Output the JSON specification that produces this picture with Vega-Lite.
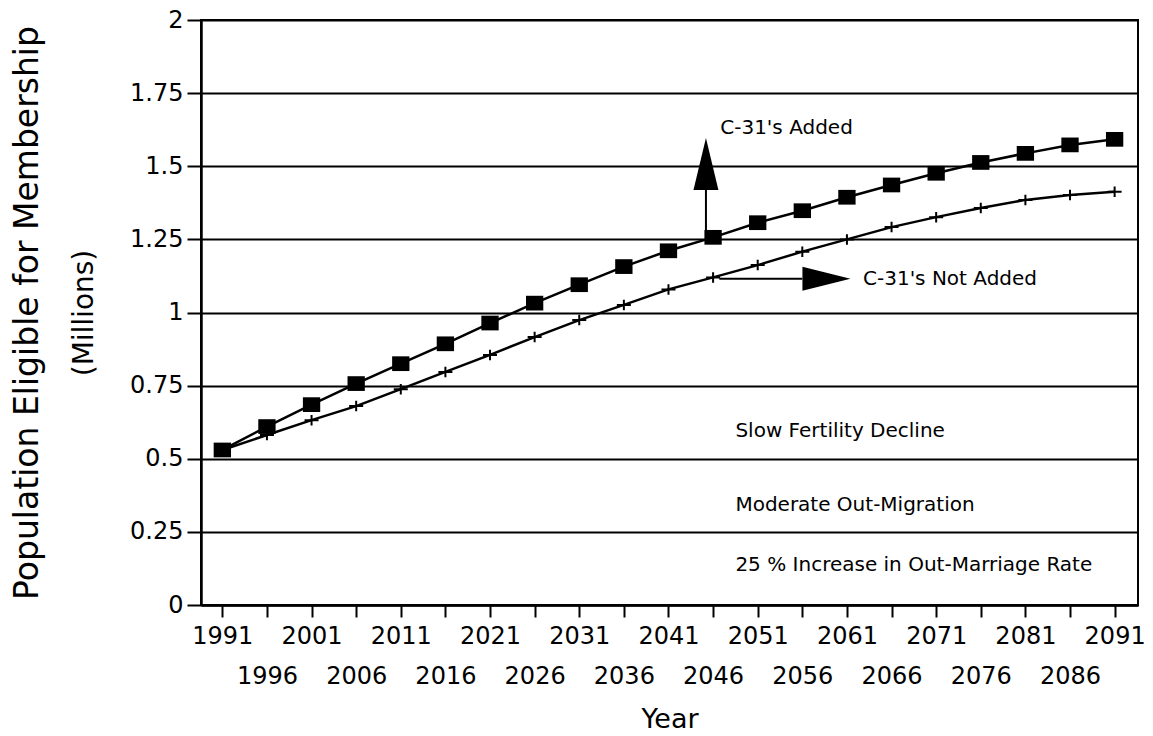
{
  "$schema": "https://vega.github.io/schema/vega-lite/v6.json",
  "width": 937,
  "height": 585,
  "autosize": {"type": "none"},
  "padding": {"left": 201, "top": 20, "right": 15, "bottom": 131},
  "background": "white",
  "config": {
    "view": {"stroke": "black", "strokeWidth": 2},
    "font": "DejaVu Sans",
    "axis": {"labelFont": "DejaVu Sans", "titleFont": "DejaVu Sans", "labelColor": "black", "titleColor": "black", "titleFontWeight": "normal"}
  },
  "datasets": {
    "pop": [
      {"year": 1991, "value": 0.530, "scenario": "C-31's Added"},
      {"year": 1996, "value": 0.610, "scenario": "C-31's Added"},
      {"year": 2001, "value": 0.685, "scenario": "C-31's Added"},
      {"year": 2006, "value": 0.757, "scenario": "C-31's Added"},
      {"year": 2011, "value": 0.825, "scenario": "C-31's Added"},
      {"year": 2016, "value": 0.893, "scenario": "C-31's Added"},
      {"year": 2021, "value": 0.964, "scenario": "C-31's Added"},
      {"year": 2026, "value": 1.032, "scenario": "C-31's Added"},
      {"year": 2031, "value": 1.095, "scenario": "C-31's Added"},
      {"year": 2036, "value": 1.157, "scenario": "C-31's Added"},
      {"year": 2041, "value": 1.211, "scenario": "C-31's Added"},
      {"year": 2046, "value": 1.257, "scenario": "C-31's Added"},
      {"year": 2051, "value": 1.307, "scenario": "C-31's Added"},
      {"year": 2056, "value": 1.348, "scenario": "C-31's Added"},
      {"year": 2061, "value": 1.394, "scenario": "C-31's Added"},
      {"year": 2066, "value": 1.436, "scenario": "C-31's Added"},
      {"year": 2071, "value": 1.476, "scenario": "C-31's Added"},
      {"year": 2076, "value": 1.513, "scenario": "C-31's Added"},
      {"year": 2081, "value": 1.544, "scenario": "C-31's Added"},
      {"year": 2086, "value": 1.573, "scenario": "C-31's Added"},
      {"year": 2091, "value": 1.592, "scenario": "C-31's Added"},
      {"year": 1991, "value": 0.530, "scenario": "C-31's Not Added"},
      {"year": 1996, "value": 0.581, "scenario": "C-31's Not Added"},
      {"year": 2001, "value": 0.632, "scenario": "C-31's Not Added"},
      {"year": 2006, "value": 0.680, "scenario": "C-31's Not Added"},
      {"year": 2011, "value": 0.738, "scenario": "C-31's Not Added"},
      {"year": 2016, "value": 0.797, "scenario": "C-31's Not Added"},
      {"year": 2021, "value": 0.855, "scenario": "C-31's Not Added"},
      {"year": 2026, "value": 0.916, "scenario": "C-31's Not Added"},
      {"year": 2031, "value": 0.974, "scenario": "C-31's Not Added"},
      {"year": 2036, "value": 1.026, "scenario": "C-31's Not Added"},
      {"year": 2041, "value": 1.079, "scenario": "C-31's Not Added"},
      {"year": 2046, "value": 1.120, "scenario": "C-31's Not Added"},
      {"year": 2051, "value": 1.162, "scenario": "C-31's Not Added"},
      {"year": 2056, "value": 1.208, "scenario": "C-31's Not Added"},
      {"year": 2061, "value": 1.250, "scenario": "C-31's Not Added"},
      {"year": 2066, "value": 1.292, "scenario": "C-31's Not Added"},
      {"year": 2071, "value": 1.326, "scenario": "C-31's Not Added"},
      {"year": 2076, "value": 1.357, "scenario": "C-31's Not Added"},
      {"year": 2081, "value": 1.385, "scenario": "C-31's Not Added"},
      {"year": 2086, "value": 1.402, "scenario": "C-31's Not Added"},
      {"year": 2091, "value": 1.413, "scenario": "C-31's Not Added"}
    ],
    "arrows": [
      {"year": 2045.2, "value": 1.257, "year2": 2045.2, "value2": 1.419},
      {"year": 2046.7, "value": 1.115, "year2": 2056.0, "value2": 1.115}
    ],
    "headUp": [{"year": 2045.2, "value": 1.508}],
    "headRight": [{"year": 2058.7, "value": 1.115}],
    "notes": [
      {"year": 2046.8, "value": 1.631, "label": "C-31's Added"},
      {"year": 2062.8, "value": 1.115, "label": "C-31's Not Added"},
      {"year": 2048.5, "value": 0.596, "label": "Slow Fertility Decline"},
      {"year": 2048.5, "value": 0.342, "label": "Moderate Out-Migration"},
      {"year": 2048.5, "value": 0.137, "label": "25 % Increase in Out-Marriage Rate"}
    ]
  },
  "layer": [
    {
      "data": {"name": "pop"},
      "mark": {"type": "line", "color": "black", "strokeWidth": 2.5},
      "encoding": {
        "x": {
          "field": "year", "type": "quantitative",
          "scale": {"domain": [1988.61, 2093.62], "nice": false, "zero": false},
          "axis": {
            "orient": "bottom",
            "values": [1991, 1996, 2001, 2006, 2011, 2016, 2021, 2026, 2031, 2036, 2041, 2046, 2051, 2056, 2061, 2066, 2071, 2076, 2081, 2086, 2091],
            "labelExpr": "(datum.value - 1991) % 10 == 0 ? format(datum.value, 'd') : ''",
            "title": null,
            "grid": false,
            "tickSize": 12, "tickWidth": 2, "tickColor": "black",
            "domainColor": "black", "domainWidth": 2.5,
            "labelPadding": 7, "labelFontSize": 24,
            "labelOverlap": false, "labelFlush": false, "labelBound": false
          }
        },
        "y": {
          "field": "value", "type": "quantitative",
          "scale": {"domain": [0, 2], "nice": false, "zero": true},
          "axis": {
            "orient": "left",
            "values": [0, 0.25, 0.5, 0.75, 1, 1.25, 1.5, 1.75, 2],
            "labelExpr": "'' + datum.value",
            "grid": true, "gridColor": "black", "gridWidth": 2, "gridOpacity": 1,
            "tickSize": 14, "tickWidth": 2, "tickColor": "black",
            "domainColor": "black", "domainWidth": 2.5,
            "labelPadding": 4, "labelFontSize": 24,
            "labelOverlap": false, "labelFlush": false,
            "title": "(Millions)", "titleFontSize": 28, "titlePadding": 31
          }
        },
        "detail": {"field": "scenario"}
      }
    },
    {
      "data": {"name": "pop"},
      "transform": [{"filter": "datum.scenario === \"C-31's Added\""}],
      "mark": {"type": "point", "shape": "M-1,-0.85L1,-0.85L1,0.85L-1,0.85Z", "filled": true, "color": "black", "opacity": 1, "size": 300},
      "encoding": {
        "x": {"field": "year", "type": "quantitative", "axis": null},
        "y": {"field": "value", "type": "quantitative", "axis": null}
      }
    },
    {
      "data": {"name": "pop"},
      "transform": [{"filter": "datum.scenario === \"C-31's Not Added\""}],
      "mark": {"type": "point", "shape": "M-1,0L1,0M0,-0.75L0,0.75", "filled": false, "stroke": "black", "strokeWidth": 2, "opacity": 1, "size": 196},
      "encoding": {
        "x": {
          "field": "year", "type": "quantitative",
          "axis": {
            "orient": "bottom",
            "values": [1996, 2006, 2016, 2026, 2036, 2046, 2056, 2066, 2076, 2086],
            "format": "d",
            "ticks": false, "tickSize": 0, "domain": false, "grid": false,
            "labelPadding": 59, "labelFontSize": 24,
            "labelOverlap": false, "labelFlush": false, "labelBound": false,
            "title": "Year", "titleFontSize": 27, "titlePadding": 18
          }
        },
        "y": {
          "field": "value", "type": "quantitative",
          "axis": {
            "orient": "left",
            "labels": false, "ticks": false, "tickSize": 0, "domain": false, "grid": false,
            "title": "Population Eligible for Membership", "titleFontSize": 33, "titlePadding": 157
          }
        }
      }
    },
    {
      "data": {"name": "arrows"},
      "mark": {"type": "rule", "color": "black", "strokeWidth": 2},
      "encoding": {
        "x": {"field": "year", "type": "quantitative", "axis": null},
        "x2": {"field": "year2"},
        "y": {"field": "value", "type": "quantitative", "axis": null},
        "y2": {"field": "value2"}
      }
    },
    {
      "data": {"name": "headUp"},
      "mark": {"type": "point", "shape": "M0,-1L0.48,1L-0.48,1Z", "filled": true, "color": "black", "opacity": 1, "size": 2704},
      "encoding": {
        "x": {"field": "year", "type": "quantitative", "axis": null},
        "y": {"field": "value", "type": "quantitative", "axis": null}
      }
    },
    {
      "data": {"name": "headRight"},
      "mark": {"type": "point", "shape": "M1,0L-1,-0.5L-1,0.5Z", "filled": true, "color": "black", "opacity": 1, "size": 2304},
      "encoding": {
        "x": {"field": "year", "type": "quantitative", "axis": null},
        "y": {"field": "value", "type": "quantitative", "axis": null}
      }
    },
    {
      "data": {"name": "notes"},
      "mark": {"type": "text", "align": "left", "baseline": "middle", "fontSize": 20, "font": "DejaVu Sans", "color": "black"},
      "encoding": {
        "x": {"field": "year", "type": "quantitative", "axis": null},
        "y": {"field": "value", "type": "quantitative", "axis": null},
        "text": {"field": "label"}
      }
    }
  ],
  "resolve": {"axis": {"x": "independent", "y": "independent"}}
}
